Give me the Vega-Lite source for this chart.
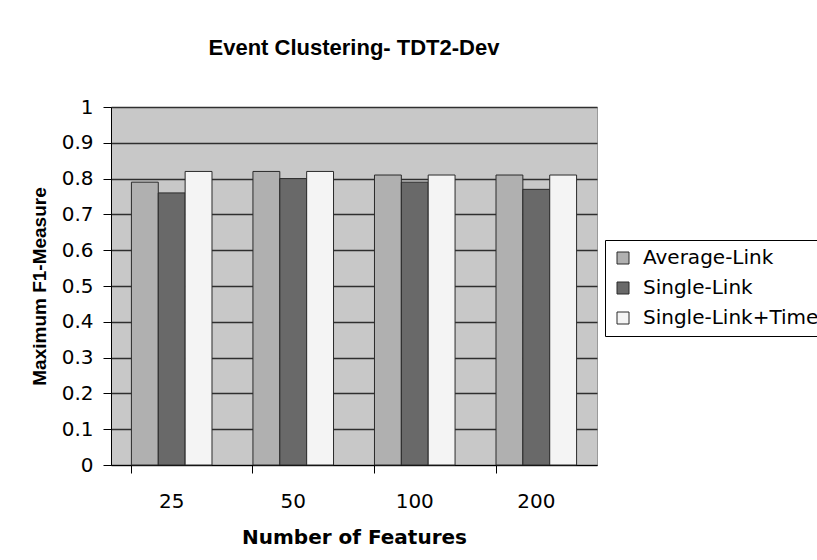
{
  "$schema": "https://vega.github.io/schema/vega-lite/v6.json",
  "autosize": {"type": "none"},
  "padding": {"left": 111, "top": 107, "right": 220, "bottom": 95},
  "width": 486,
  "height": 358,
  "background": "white",
  "config": {
    "font": "DejaVu Sans",
    "view": {"fill": "#c8c8c8", "stroke": "#9a9a9a", "strokeWidth": 1}
  },
  "title": {
    "text": "Event Clustering- TDT2-Dev",
    "font": "Liberation Sans",
    "fontSize": 22,
    "fontWeight": "bold",
    "color": "black",
    "offset": 37,
    "anchor": "middle"
  },
  "data": {
    "values": [
      {"features": "25", "method": "Average-Link", "value": 0.79},
      {"features": "25", "method": "Single-Link", "value": 0.76},
      {"features": "25", "method": "Single-Link+Time", "value": 0.82},
      {"features": "50", "method": "Average-Link", "value": 0.82},
      {"features": "50", "method": "Single-Link", "value": 0.80},
      {"features": "50", "method": "Single-Link+Time", "value": 0.82},
      {"features": "100", "method": "Average-Link", "value": 0.81},
      {"features": "100", "method": "Single-Link", "value": 0.79},
      {"features": "100", "method": "Single-Link+Time", "value": 0.81},
      {"features": "200", "method": "Average-Link", "value": 0.81},
      {"features": "200", "method": "Single-Link", "value": 0.77},
      {"features": "200", "method": "Single-Link+Time", "value": 0.81}
    ]
  },
  "mark": {"type": "bar", "stroke": "#2a2a2a", "strokeWidth": 1},
  "encoding": {
    "x": {
      "field": "features",
      "type": "nominal",
      "sort": ["25", "50", "100", "200"],
      "scale": {"paddingInner": 0.337, "paddingOuter": 0.168},
      "axis": {
        "title": "Number of Features",
        "titleFont": "DejaVu Sans",
        "titleFontSize": 20,
        "titleFontWeight": "bold",
        "titleColor": "black",
        "titlePadding": 16,
        "labelAngle": 0,
        "labelFontSize": 20,
        "labelColor": "black",
        "labelPadding": 18,
        "bandPosition": 0,
        "tickSize": 8,
        "tickColor": "black",
        "domainColor": "black",
        "domainWidth": 1,
        "grid": false
      }
    },
    "xOffset": {
      "field": "method",
      "sort": ["Average-Link", "Single-Link", "Single-Link+Time"],
      "scale": {"paddingInner": 0, "paddingOuter": 0}
    },
    "y": {
      "field": "value",
      "type": "quantitative",
      "scale": {"domain": [0, 1], "nice": false},
      "axis": {
        "title": "Maximum F1-Measure",
        "titleFont": "Liberation Sans",
        "titleFontSize": 19,
        "titleFontWeight": "bold",
        "titleColor": "black",
        "titlePadding": 12,
        "values": [0, 0.1, 0.2, 0.3, 0.4, 0.5, 0.6, 0.7, 0.8, 0.9, 1],
        "format": ".1~f",
        "labelFontSize": 20,
        "labelColor": "black",
        "labelPadding": 10,
        "tickSize": 8,
        "tickColor": "black",
        "domainColor": "black",
        "grid": true,
        "gridColor": "#2f2f2f",
        "gridWidth": 1.3
      }
    },
    "fill": {
      "field": "method",
      "type": "nominal",
      "scale": {
        "domain": ["Average-Link", "Single-Link", "Single-Link+Time"],
        "range": ["#b0b0b0", "#696969", "#f4f4f4"]
      },
      "legend": {
        "title": null,
        "orient": "none",
        "legendX": 494,
        "legendY": 133,
        "strokeColor": "black",
        "fillColor": "white",
        "padding": 8,
        "symbolType": "square",
        "symbolSize": 144,
        "symbolStrokeColor": "#2a2a2a",
        "symbolStrokeWidth": 1,
        "labelFontSize": 20,
        "labelColor": "black",
        "labelOffset": 10,
        "rowPadding": 10,
        "labelLimit": 400
      }
    }
  }
}
